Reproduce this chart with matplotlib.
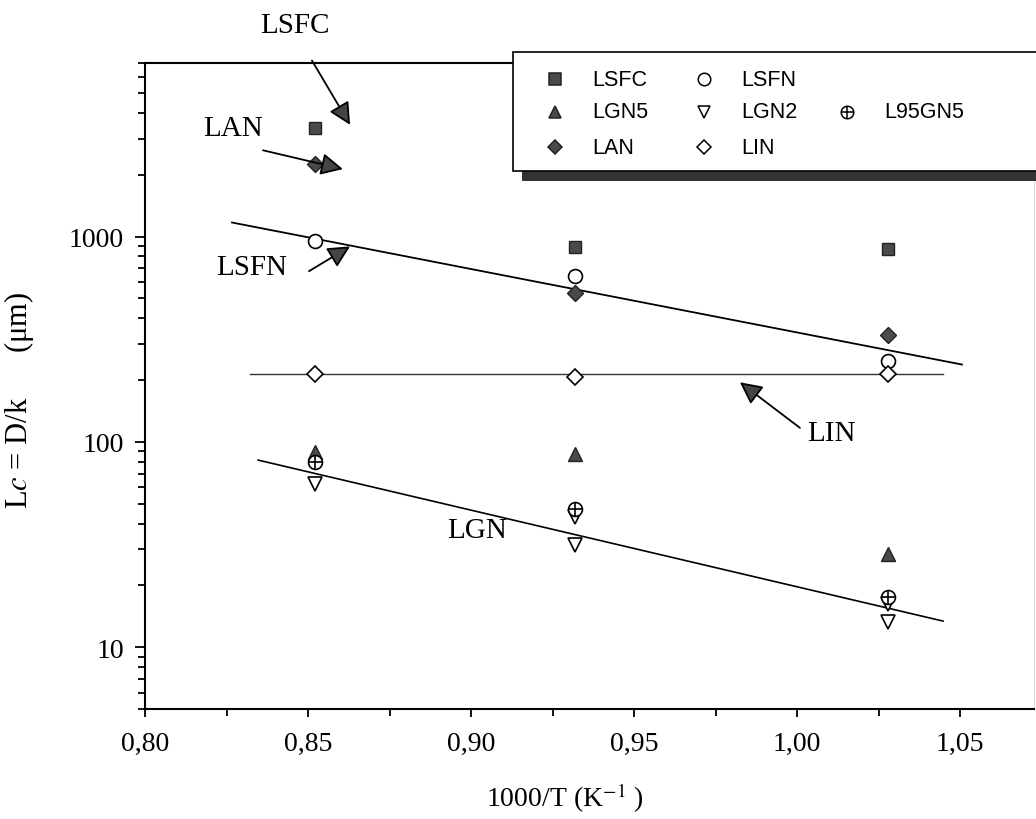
"""
Lc = D/k vs 1000/T, log scale
"""
from matplotlib import pyplot as plt
from matplotlib.lines import Line2D
from matplotlib.patches import Rectangle
from matplotlib.ticker import FixedLocator, LogLocator, FuncFormatter, NullFormatter
import numpy as np

plt.rcParams['font.family'] = 'serif'
plt.rcParams['font.serif'] = ['Liberation Serif', 'DejaVu Serif']
plt.rcParams['mathtext.fontset'] = 'stix'

# data
inv_t = [0.852, 0.932, 1.028]
lsfc = [3360, 890, 870]
lsfn = [955, 640, 249]
lan = [2250, 530, 330]
lin = [214, 207, 215]
lgn5 = [89, 87, 28.3]
l95gn5 = [80, 47, 17.5]
lgn2_x = [0.852, 0.932, 0.932, 1.028, 1.028]
lgn2_y = [62, 43, 31.5, 16.2, 13.3]

# fitted lines (end points)
fit_lsfn_x = [0.8267, 1.0506]
fit_lsfn_y = [1170, 238]
fit_lin_x = [0.8322, 1.0448]
fit_lin_y = [213, 213]
fit_lgn_x = [0.8347, 1.0448]
fit_lgn_y = [81.5, 13.4]

xticks = [0.80, 0.85, 0.90, 0.95, 1.00, 1.05]

dark = '#4a4a4a'
W, H = 1036, 820

fig = plt.figure(figsize=(W / 100, H / 100), dpi=100)
ax = fig.add_axes([145 / W, 1 - 710 / H, (1034 - 145) / W, (710 - 64) / H])

ax.set_yscale('log')
ax.set_xlim(0.80, 0.80 + (1034 - 145) * 0.05 / 163)
ax.set_ylim(5, 7000)

# fit lines
ax.plot(fit_lsfn_x, fit_lsfn_y, color='black', lw=1.3, zorder=2)
ax.plot(fit_lin_x, fit_lin_y, color='#333333', lw=1.0, zorder=2)
ax.plot(fit_lgn_x, fit_lgn_y, color='black', lw=1.2, zorder=2)

# data points
ax.plot(inv_t, lsfc, 's', ms=9, mfc=dark, mec='#222222', mew=1, ls='none', zorder=3)
ax.plot(inv_t, lsfn, 'o', ms=10, mfc='white', mec='black', mew=1.2, ls='none', zorder=3)
ax.plot(inv_t, lan, 'D', ms=8, mfc=dark, mec='#222222', mew=1, ls='none', zorder=3)
ax.plot(inv_t, lin, 'D', ms=8, mfc='white', mec='black', mew=1.2, ls='none', zorder=3)
ax.plot(inv_t, lgn5, '^', ms=10, mfc=dark, mec='#222222', mew=1, ls='none', zorder=3)
ax.plot(lgn2_x, lgn2_y, 'v', ms=10, mfc='white', mec='black', mew=1.2, ls='none', zorder=3)
ax.plot(inv_t, l95gn5, 'o', ms=10, mfc='white', mec='black', mew=1.2, ls='none', zorder=4)
ax.plot(inv_t, l95gn5, '+', ms=10, mec='black', mew=1.2, ls='none', zorder=4)

# ticks
ax.xaxis.set_major_locator(FixedLocator(xticks))
ax.xaxis.set_minor_locator(FixedLocator(np.arange(0.825, 1.08, 0.05)))
ax.xaxis.set_major_formatter(FuncFormatter(lambda v, p: ('%.2f' % v).replace('.', ',')))
ax.yaxis.set_major_locator(FixedLocator([10, 100, 1000]))
ax.yaxis.set_minor_locator(LogLocator(base=10, subs=np.arange(2, 10)))
ax.yaxis.set_major_formatter(FuncFormatter(lambda v, p: '%d' % v))
ax.yaxis.set_minor_formatter(NullFormatter())
ax.tick_params(axis='both', which='major', direction='out', labelsize=20, width=1.3)
ax.tick_params(axis='y', which='major', length=7, pad=8)
ax.tick_params(axis='y', which='minor', length=5, width=1.3, direction='out')
ax.tick_params(axis='x', which='major', length=6, pad=10)
ax.tick_params(axis='x', which='minor', length=5, width=1.3, direction='out')
for side in ['left', 'bottom', 'top']:
    ax.spines[side].set_linewidth(1.5)
ax.spines['right'].set_color('#dddddd')

ax.set_xlabel('1000/T (K$^{-1}$ )', fontsize=20)
ax.xaxis.set_label_coords((565 - 145) / 889, (710 - 782) / 646)
ax.set_ylabel('L$\\mathit{c}$ = D/k      (\u03bcm)', fontsize=22)
ax.yaxis.set_label_coords((36 - 145) / 889, (710 - 400) / 646)

# labels with arrows
arrow = dict(arrowstyle='-|>,head_length=0.9,head_width=0.45', fc='#444444', ec='black',
             lw=1.3, mutation_scale=15, shrinkA=0, shrinkB=0)
ax.annotate('', xy=(0.8629, 3500), xytext=(0.8512, 7200), arrowprops=arrow,
            annotation_clip=False, zorder=5)
ax.text(0.846, 10700, 'LSFC', fontsize=21, ha='center', va='center', clip_on=False)
ax.annotate('', xy=(0.8607, 2130), xytext=(0.8362, 2630), arrowprops=arrow, zorder=5)
ax.text(0.827, 3360, 'LAN', fontsize=21, ha='center', va='center')
ax.annotate('', xy=(0.8629, 895), xytext=(0.8503, 678), arrowprops=arrow, zorder=5)
ax.text(0.8328, 708, 'LSFN', fontsize=21, ha='center', va='center')
ax.annotate('', xy=(0.9825, 195), xytext=(1.0009, 117), arrowprops=arrow, zorder=5)
ax.text(1.0107, 111, 'LIN', fontsize=21, ha='center', va='center')
ax.text(0.9018, 37.2, 'LGN', fontsize=21, ha='center', va='center')

# legend drawn in pixel space
ov = fig.add_axes([0, 0, 1, 1])
ov.set_xlim(0, W)
ov.set_ylim(H, 0)
ov.axis('off')
ov.add_patch(Rectangle((522, 172), 530, 10, fc='#333333', ec='none', zorder=1))
ov.add_patch(Rectangle((513, 53), 540, 119, fc='white', ec='black', lw=1.2, zorder=2))

legend_items = [
    ('LSFC', 555, 80, dict(marker='s', ms=8, mfc=dark, mec='#222222')),
    ('LGN5', 555, 113, dict(marker='^', ms=9, mfc=dark, mec='#222222')),
    ('LAN', 555, 148, dict(marker='D', ms=7, mfc=dark, mec='#222222')),
    ('LSFN', 704, 80, dict(marker='o', ms=9, mfc='white', mec='black')),
    ('LGN2', 704, 113, dict(marker='v', ms=9, mfc='white', mec='black')),
    ('LIN', 704, 148, dict(marker='D', ms=7, mfc='white', mec='black')),
    ('L95GN5', 847, 113, dict(marker='o', ms=9, mfc='white', mec='black')),
]
for name, mx, my, style in legend_items:
    ov.add_line(Line2D([mx], [my], ls='none', mew=1.1, zorder=3, **style))
    ov.text(mx + 37, my, name, fontsize=15.5, family='Liberation Sans',
            ha='left', va='center', zorder=3)
ov.add_line(Line2D([847], [113], marker='+', ms=9, mew=1.1, mec='black', ls='none', zorder=4))

fig.savefig('out.png', dpi=100)
